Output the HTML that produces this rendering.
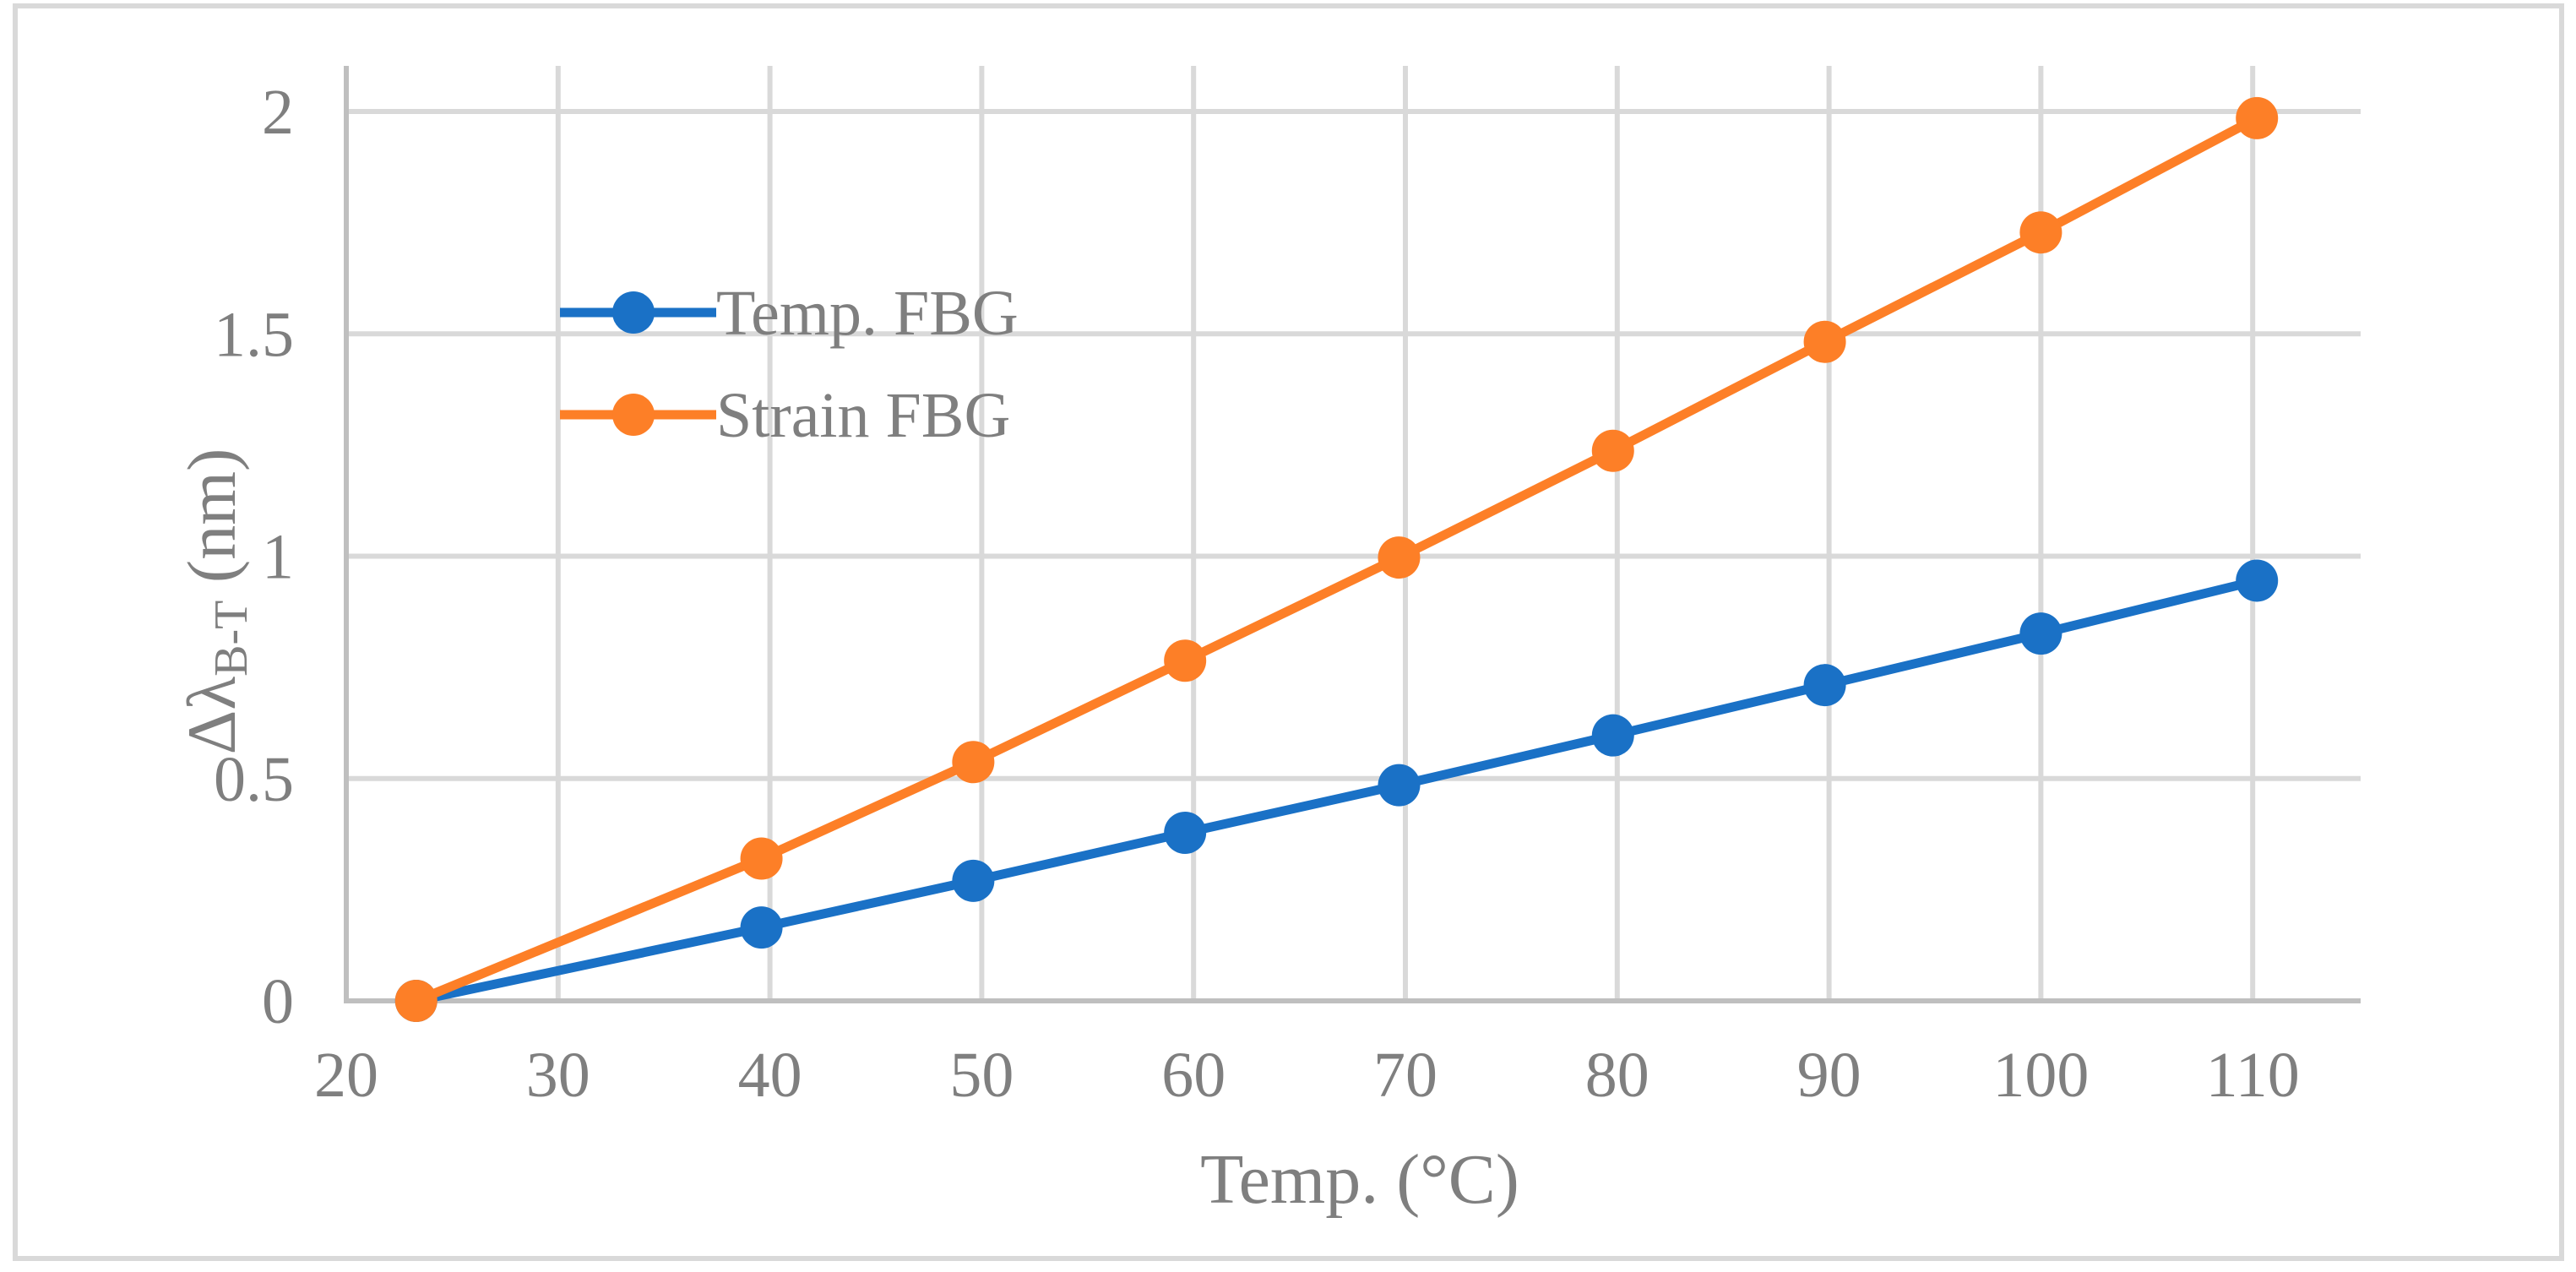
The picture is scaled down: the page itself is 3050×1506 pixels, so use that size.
<!DOCTYPE html>
<html><head><meta charset="utf-8"><style>
html,body{margin:0;padding:0;background:#fff;}
svg{display:block;}
text{font-family:"Liberation Serif",serif;fill:#7f7f7f;}
</style></head><body>
<svg id="chart" width="3050" height="1506" viewBox="0 0 3050 1506" xmlns="http://www.w3.org/2000/svg">
<rect x="18" y="7" width="3015" height="1483" fill="#fff" stroke="#d9d9d9" stroke-width="6"/>
<g id="grid"></g>
<g id="axes"></g>
<g id="series"></g>
<text x="1610" y="1424" font-size="84" text-anchor="middle">Temp. (°C)</text>
<text transform="translate(278,712) rotate(-90)" font-size="82" text-anchor="middle">Δλ<tspan font-size="56" dy="14">B-T</tspan><tspan dy="-14"> (nm)</tspan></text>
<g>
<line x1="663" y1="370" x2="848" y2="370" stroke="#1a71c6" stroke-width="11"/>
<ellipse cx="750" cy="370" rx="25" ry="25" fill="#1a71c6"/>
<text x="848" y="396" font-size="76">Temp. FBG</text>
<line x1="663" y1="491" x2="848" y2="491" stroke="#fd7f27" stroke-width="11"/>
<ellipse cx="750" cy="491" rx="25" ry="25" fill="#fd7f27"/>
<text x="848" y="517" font-size="76">Strain FBG</text>
</g>
</svg>
<script>
const xTicks = [20,30,40,50,60,70,80,90,100,110];
const yTicks = [0,0.5,1,1.5,2];
const yTickLabels = ["0","0.5","1","1.5","2"];
const temps = [23.3,39.6,49.6,59.6,69.7,79.8,89.8,100,110.2];
const tempFBG = [0,0.165,0.27,0.378,0.485,0.597,0.71,0.826,0.945];
const strainFBG = [0,0.32,0.537,0.765,0.997,1.237,1.482,1.728,1.985];

const NS="http://www.w3.org/2000/svg";
const X0=410, XS=25.08, Y0=1185, YS=526.5;
function xs(v){return X0+(v-20)*XS;}
function ys(v){return Y0-v*YS;}
function mk(tag,attrs,parent){const e=document.createElementNS(NS,tag);for(const k in attrs)e.setAttribute(k,attrs[k]);parent.appendChild(e);return e;}
const grid=document.getElementById('grid'), axes=document.getElementById('axes'), series=document.getElementById('series');
xTicks.forEach((t,i)=>{
  if(i>0){const l=mk('line',{x1:xs(t),y1:78,x2:xs(t),y2:Y0,stroke:'#d9d9d9','stroke-width':6},grid);
  
  }
  const tx=mk('text',{x:xs(t),y:1298,'font-size':76,'text-anchor':'middle'},axes);
  tx.textContent=t;
  
  
});
yTicks.forEach((t,i)=>{
  if(i>0){const l=mk('line',{x1:X0,y1:ys(t),x2:2795,y2:ys(t),stroke:'#d9d9d9','stroke-width':6},grid);
  
  }
  const tx=mk('text',{x:348,y:ys(t)+26,'font-size':76,'text-anchor':'end'},axes);
  tx.textContent=yTickLabels[i];
  
  
});
const ya=mk('line',{x1:X0,y1:78,x2:X0,y2:Y0+3,stroke:'#bfbfbf','stroke-width':6},axes);


const xa=mk('line',{x1:X0-3,y1:Y0,x2:2795,y2:Y0,stroke:'#bfbfbf','stroke-width':6},axes);


function drawSeries(vals,color,name){
  const pts=temps.map((t,i)=>xs(t)+','+ys(vals[i])).join(' ');
  const pl=mk('polyline',{points:pts,fill:'none',stroke:color,'stroke-width':11,'stroke-linejoin':'round'},series);
  
  
  temps.forEach((t,i)=>{
    const c=mk('ellipse',{cx:xs(t),cy:ys(vals[i]),rx:25,ry:25,fill:color},series);
    
    
  });
}
drawSeries(tempFBG,'#1a71c6','temp-fbg');
drawSeries(strainFBG,'#fd7f27','strain-fbg');
</script>
</body></html>
